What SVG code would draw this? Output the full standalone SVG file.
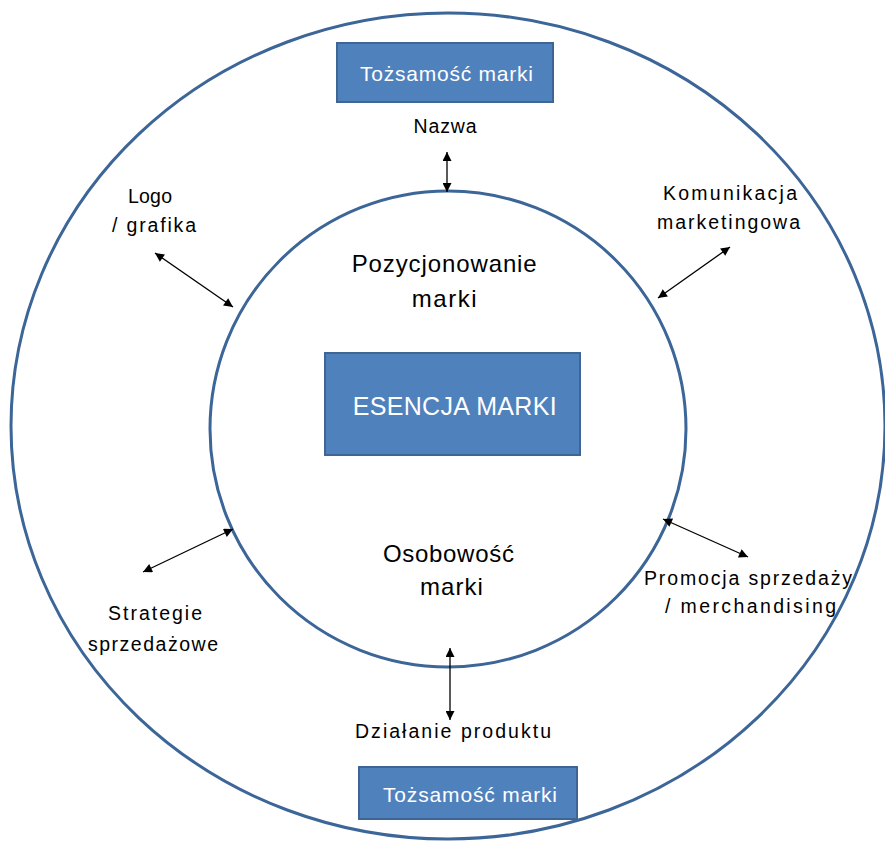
<svg xmlns="http://www.w3.org/2000/svg" width="885" height="841" viewBox="0 0 885 841">
<style>
.ring{fill:none;stroke:#3C6598;stroke-width:3}
.box{fill:#4F81BD;stroke:#3E6594;stroke-width:2}
.bt{fill:#fff;font-family:"Liberation Sans",Arial,sans-serif;text-anchor:middle}
.lb{fill:#000;font-family:"Liberation Sans",Arial,sans-serif;font-size:19.5px;text-anchor:middle}
.in{fill:#000;font-family:"Liberation Sans",Arial,sans-serif;font-size:24px;text-anchor:middle}
.ar{stroke:#000;stroke-width:1.3;fill:none;marker-start:url(#ah);marker-end:url(#ah)}
</style>
<defs>
<marker id="ah" viewBox="0 0 10 10" refX="10" refY="5" markerWidth="10" markerHeight="9" markerUnits="userSpaceOnUse" orient="auto-start-reverse">
<path d="M0,0 L10,5 L0,10 z" fill="#000"/>
</marker>
</defs>
<rect width="885" height="841" fill="#fff"/>
<g id="outer"><ellipse class="ring" cx="448" cy="426" rx="437" ry="413"/></g>
<g id="inner"><circle class="ring" cx="448" cy="429" r="238"/></g>
<g id="top-box"><rect class="box" x="337" y="43" width="216" height="59"/><text class="bt" x="446.5" y="81" font-size="21" textLength="173" lengthAdjust="spacing">Tożsamość marki</text></g>
<g id="bottom-box"><rect class="box" x="359" y="767" width="218" height="52"/><text class="bt" x="470" y="802" font-size="21" textLength="174" lengthAdjust="spacing">Tożsamość marki</text></g>
<g id="core"><rect class="box" x="325" y="353" width="255" height="102"/><text class="bt" x="454.7" y="415" font-size="25" textLength="204" lengthAdjust="spacing">ESENCJA MARKI</text></g>
<g id="pozycjonowanie"><text class="in" x="444.2" y="272" textLength="185" lengthAdjust="spacing">Pozycjonowanie</text><text class="in" x="444.2" y="306.5" textLength="65" lengthAdjust="spacing">marki</text></g>
<g id="osobowosc"><text class="in" x="448.4" y="561.5" textLength="131" lengthAdjust="spacing">Osobowość</text><text class="in" x="451.4" y="595" textLength="62.7" lengthAdjust="spacing">marki</text></g>
<g id="nazwa"><text class="lb" x="445" y="133" textLength="63" lengthAdjust="spacing">Nazwa</text></g>
<g id="logo"><text class="lb" x="150" y="203" textLength="44" lengthAdjust="spacing">Logo</text><text class="lb" x="154" y="232" textLength="84" lengthAdjust="spacing">/ grafika</text></g>
<g id="komunikacja"><text class="lb" x="730" y="200" textLength="134" lengthAdjust="spacing">Komunikacja</text><text class="lb" x="728.5" y="229" textLength="143" lengthAdjust="spacing">marketingowa</text></g>
<g id="strategie"><text class="lb" x="155" y="620" textLength="94" lengthAdjust="spacing">Strategie</text><text class="lb" x="153" y="651" textLength="130" lengthAdjust="spacing">sprzedażowe</text></g>
<g id="promocja"><text class="lb" x="748" y="585" textLength="208" lengthAdjust="spacing">Promocja sprzedaży</text><text class="lb" x="750.5" y="613" textLength="171" lengthAdjust="spacing">/ merchandising</text></g>
<g id="dzialanie"><text class="lb" x="453" y="738" textLength="196" lengthAdjust="spacing">Działanie produktu</text></g>
<g id="connectors">
<line class="ar" x1="447" y1="152" x2="447" y2="192"/>
<line class="ar" x1="155" y1="253" x2="233" y2="307"/>
<line class="ar" x1="730" y1="247" x2="658" y2="298"/>
<line class="ar" x1="233" y1="529" x2="143" y2="572"/>
<line class="ar" x1="663" y1="519" x2="748" y2="557"/>
<line class="ar" x1="450" y1="648" x2="450" y2="720"/>
</g>
</svg>
